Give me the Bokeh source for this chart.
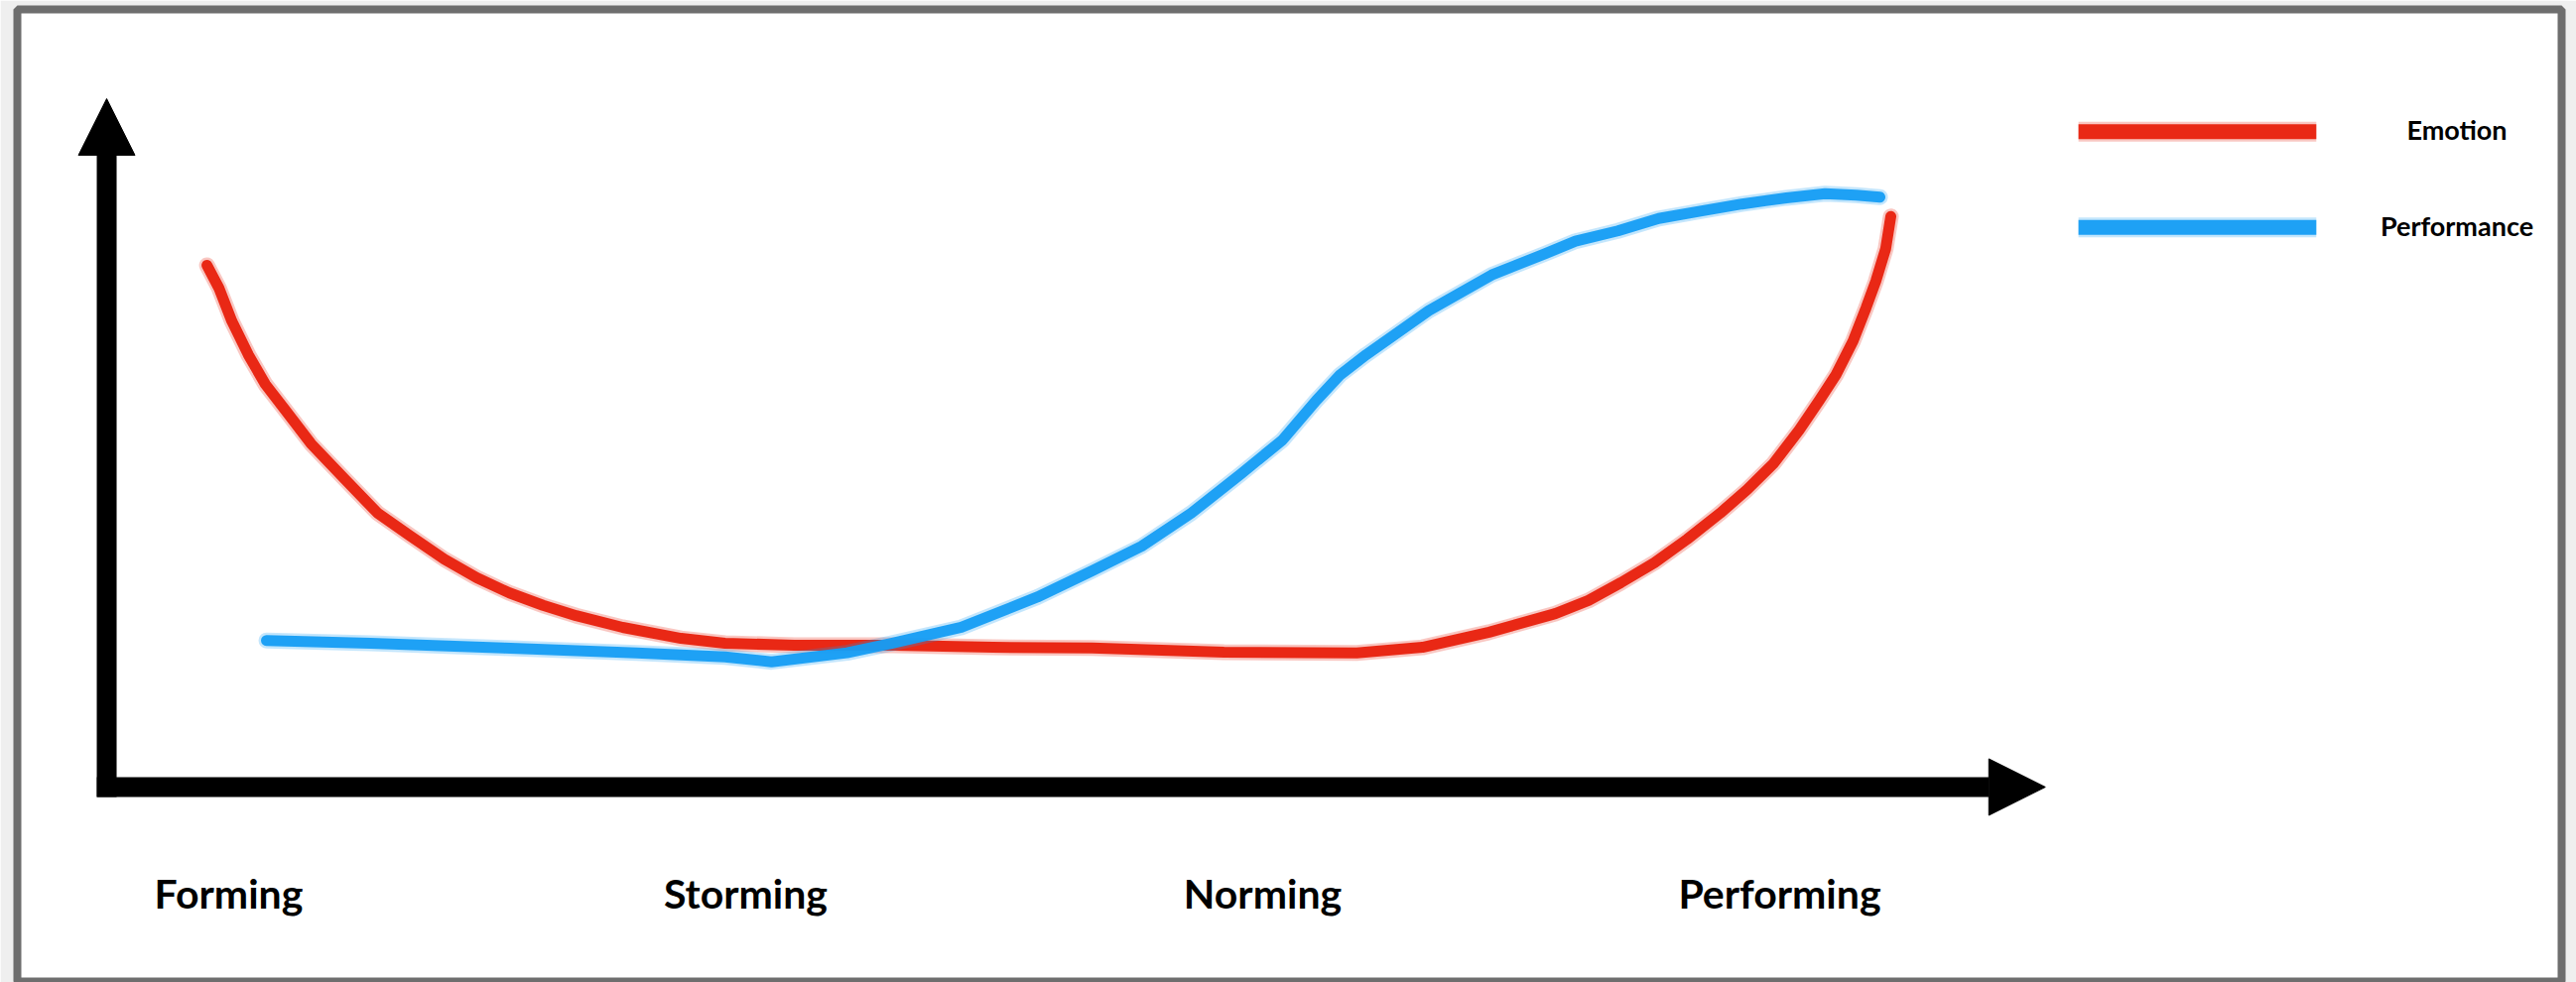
from bokeh.plotting import figure
from bokeh.models import Range1d, Arrow, NormalHead
from bokeh.core.properties import value
from bokeh.embed import file_html
from bokeh.resources import INLINE

# ---------------- data (stage units on x, relative level 0-100 on y) ----------------
stages = ["Forming", "Storming", "Norming", "Performing"]
stage_x = [0, 1, 2, 3]

emotion_x = [-0.042, -0.019, 0.006, 0.038, 0.071, 0.109, 0.159, 0.225, 0.288, 0.351,
             0.417, 0.480, 0.543, 0.608, 0.672, 0.762, 0.875, 0.960, 1.094, 1.286,
             1.478, 1.670, 1.925, 2.182, 2.309, 2.438, 2.566, 2.630, 2.693, 2.758,
             2.821, 2.885, 2.937, 2.988, 3.038, 3.077, 3.109, 3.142, 3.167, 3.186,
             3.205, 3.215]
emotion_y = [75.8, 72.5, 67.7, 62.8, 58.5, 54.8, 49.9, 44.7, 39.8, 36.5,
             33.1, 30.4, 28.2, 26.4, 24.9, 23.2, 21.6, 20.9, 20.6, 20.6,
             20.3, 20.2, 19.6, 19.5, 20.3, 22.5, 25.2, 27.1, 29.7, 32.6,
             36.0, 39.8, 43.2, 47.0, 51.9, 56.2, 59.9, 64.8, 69.6, 73.5,
             78.2, 82.9]

performance_x = [0.073, 0.274, 0.532, 0.789, 0.960, 1.050, 1.196, 1.284, 1.417, 1.564,
                 1.670, 1.766, 1.862, 1.958, 2.038, 2.104, 2.150, 2.200, 2.321, 2.443,
                 2.547, 2.605, 2.687, 2.766, 2.841, 2.927, 3.013, 3.088, 3.148, 3.194]
performance_y = [21.3, 20.9, 20.2, 19.5, 18.9, 18.2, 19.5, 20.9, 23.2, 27.6,
                 31.4, 35.0, 39.8, 45.5, 50.4, 56.2, 59.9, 62.8, 69.2, 74.4,
                 77.5, 79.3, 80.8, 82.6, 83.6, 84.7, 85.6, 86.2, 86.0, 85.7]

series_names = ["Emotion", "Performance"]

# ---------------- layout / style ----------------
RED = "#e8200c"
BLUE = "#159df4"
FONT = "Lato"

X_START, X_END = -0.4088, 4.5125
Y_START, Y_END = -28.39, 112.97

AXIS_X = -0.236      # vertical axis position
AXIS_Y = 0.0         # horizontal axis position
Y_TIP = 100.0
X_TIP = 3.514
AXIS_Y_LOW = -1.44
AXIS_X_LEFT = -0.255
LABEL_Y = -15.4

LEG_X0, LEG_X1 = 3.578, 4.038
LEG_Y = [95.2, 81.3]
LEG_TEXT_X = 4.31
LEG_TEXT_DY = 0.3

p = figure(width=2596, height=990, output_backend="svg", toolbar_location=None,
           x_range=Range1d(X_START, X_END), y_range=Range1d(Y_START, Y_END),
           x_axis_type=None, y_axis_type=None,
           min_border_left=17, min_border_right=15, min_border_top=9, min_border_bottom=0)
p.background_fill_color = "white"
p.border_fill_color = "#efefef"
p.outline_line_color = "#6e6e6e"
p.outline_line_width = 8

# axes as arrows
p.add_layout(Arrow(end=NormalHead(size=57, fill_color="black", line_color="black", line_width=1),
                   x_start=AXIS_X, y_start=AXIS_Y_LOW, x_end=AXIS_X, y_end=Y_TIP,
                   line_width=20, line_color="black"))
p.add_layout(Arrow(end=NormalHead(size=57, fill_color="black", line_color="black", line_width=1),
                   x_start=AXIS_X_LEFT, y_start=AXIS_Y, x_end=X_TIP, y_end=AXIS_Y,
                   line_width=20, line_color="black"))

# curves (soft halo + core to hint at the chalk texture)
for xs, ys, col in [(emotion_x, emotion_y, RED), (performance_x, performance_y, BLUE)]:
    p.line(xs, ys, line_color=col, line_width=16, line_alpha=0.25, line_cap="round", line_join="round")
    p.line(xs, ys, line_color=col, line_width=11, line_alpha=0.95, line_cap="round", line_join="round")

# stage labels
p.text(x=stage_x, y=[LABEL_Y] * len(stages), text=stages,
       text_font=value(FONT), text_font_style="bold", text_font_size="41px",
       text_align="center", text_baseline="alphabetic", text_color="black")

# legend
for i, (name, col) in enumerate(zip(series_names, [RED, BLUE])):
    p.line([LEG_X0, LEG_X1], [LEG_Y[i], LEG_Y[i]], line_color=col, line_width=20, line_alpha=0.25)
    p.line([LEG_X0, LEG_X1], [LEG_Y[i], LEG_Y[i]], line_color=col, line_width=15, line_alpha=0.95)
    p.text(x=[LEG_TEXT_X], y=[LEG_Y[i] + LEG_TEXT_DY], text=[name],
           text_font=value(FONT), text_font_style="bold", text_font_size="27px",
           text_align="center", text_baseline="alphabetic", text_color="black")

open("out.html", "w").write(file_html(p, INLINE))
